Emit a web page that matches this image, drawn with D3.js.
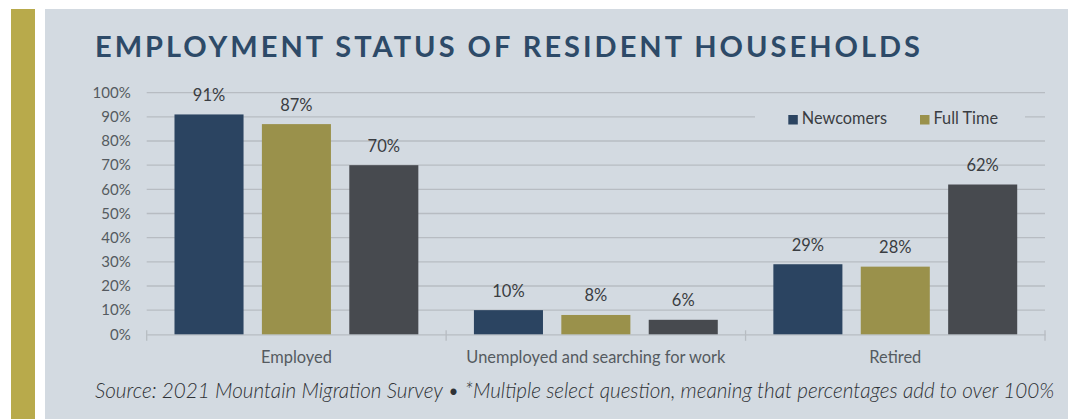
<!DOCTYPE html>
<html>
<head>
<meta charset="utf-8">
<script src="https://cdn.jsdelivr.net/npm/d3@7"></script>
<style>
  html, body { margin: 0; padding: 0; background: #fff; }
  #chart { width: 1068px; height: 419px; }
  text { font-family: Lato, "Open Sans", sans-serif; }
</style>
</head>
<body>
<div id="chart"></div>
<script>
var categories = ['Employed', 'Unemployed and searching for work', 'Retired'];
var seriesNames = ['Newcomers', 'Full Time', 'Other'];
var newcomers = [91, 10, 29];
var fullTime = [87, 8, 28];
var other = [70, 6, 62];
var yTicks = [0, 10, 20, 30, 40, 50, 60, 70, 80, 90, 100];
var legendNames = ['Newcomers', 'Full Time'];

(function () {
  var W = 1068, H = 419;
  var colors = { 'Newcomers': '#2b4461', 'Full Time': '#9a914b', 'Other': '#474a4f' };
  var margin = { top: 92.7, left: 146.7, right: 23, bottom: 84.7 };
  var width = W - margin.left - margin.right;
  var height = H - margin.top - margin.bottom;

  var root = d3.select('#chart').append('svg')
    .attr('width', W).attr('height', H);

  // background panel + gold side bar
  root.append('rect').attr('x', 11).attr('y', 9).attr('width', 24).attr('height', H - 9).attr('fill', '#b8aa4b');
  root.append('rect').attr('x', 45).attr('y', 9).attr('width', W - 45).attr('height', H - 9).attr('fill', '#d3dae1');

  root.append('text')
    .attr('x', 95).attr('y', 56.7)
    .attr('fill', '#2d4a68')
    .style('font-size', '29px').style('font-weight', 700)
    .style('letter-spacing', '3px')
    .text('EMPLOYMENT STATUS OF RESIDENT HOUSEHOLDS');

  var svg = root.append('g').attr('transform', 'translate(' + margin.left + ',' + margin.top + ')');

  var x0 = d3.scaleBand().domain(categories).range([0, width]).paddingInner(0).paddingOuter(0);
  var x1 = d3.scaleBand().domain(seriesNames).range([0, x0.bandwidth()]).paddingInner(0.21).paddingOuter(0.318);
  var y = d3.scaleLinear().domain([0, 100]).range([height, 0]);

  // gridlines
  svg.append('g').selectAll('line').data(yTicks.filter(function (d) { return d > 0; })).enter()
    .append('line')
    .attr('x1', 0).attr('x2', width)
    .attr('y1', function (d) { return y(d); }).attr('y2', function (d) { return y(d); })
    .attr('stroke', '#b7bcc2').attr('stroke-width', 1.3);

  // y labels
  svg.append('g').selectAll('text').data(yTicks).enter()
    .append('text')
    .attr('x', -16).attr('y', function (d) { return y(d); })
    .attr('dy', '0.35em').attr('text-anchor', 'end')
    .attr('fill', '#555a60').style('font-size', '15px')
    .text(function (d) { return d + '%'; });

  // x axis line + ticks at category boundaries
  var xAxis = d3.axisBottom(x0).tickSize(0).tickFormat('');
  var xg = svg.append('g').attr('transform', 'translate(0,' + height + ')').call(xAxis);
  xg.select('.domain').attr('stroke', '#b7bcc2').attr('stroke-width', 1.3);
  var bounds = [0].concat(categories.map(function (c) { return x0(c) + x0.bandwidth(); }));
  xg.selectAll('line.bound').data(bounds).enter().append('line').attr('class', 'bound')
    .attr('x1', function (d) { return d; }).attr('x2', function (d) { return d; })
    .attr('y1', -4).attr('y2', 6.5)
    .attr('stroke', '#b7bcc2').attr('stroke-width', 1.3);

  // category labels
  svg.append('g').selectAll('text').data(categories).enter()
    .append('text')
    .attr('x', function (d) { return x0(d) + x0.bandwidth() / 2; })
    .attr('y', height + 29)
    .attr('text-anchor', 'middle')
    .attr('fill', '#555a60').style('font-size', '16.4px')
    .text(function (d) { return d; });

  // bars
  var seriesVals = { 'Newcomers': newcomers, 'Full Time': fullTime, 'Other': other };
  var rows = [];
  categories.forEach(function (c, i) {
    seriesNames.forEach(function (s) { rows.push({ cat: c, key: s, value: seriesVals[s][i] }); });
  });

  svg.append('g').selectAll('rect').data(rows).enter()
    .append('rect')
    .attr('x', function (d) { return x0(d.cat) + x1(d.key); })
    .attr('y', function (d) { return y(d.value); })
    .attr('width', x1.bandwidth())
    .attr('height', function (d) { return height - y(d.value); })
    .attr('fill', function (d) { return colors[d.key]; });

  svg.append('g').selectAll('text').data(rows).enter()
    .append('text')
    .attr('x', function (d) { return x0(d.cat) + x1(d.key) + x1.bandwidth() / 2; })
    .attr('y', function (d) { return y(d.value) - 13.5; })
    .attr('text-anchor', 'middle')
    .attr('fill', '#3a3d42').style('font-size', '16.5px')
    .text(function (d) { return d.value + '%'; });

  // legend (box hides the gridline behind it)
  var lg = root.append('g');
  lg.append('rect').attr('x', 755).attr('y', 104).attr('width', 270).attr('height', 26).attr('fill', '#d3dae1');
  var lx = [788.3, 920];
  legendNames.forEach(function (n, i) {
    lg.append('rect').attr('x', lx[i]).attr('y', 115).attr('width', 9.5).attr('height', 9.5).attr('fill', colors[n]);
    lg.append('text').attr('x', lx[i] + 13.5).attr('y', 124.3)
      .attr('fill', '#3a3d42').style('font-size', '16.3px').text(n);
  });

  // footnote
  root.append('text')
    .attr('x', 95).attr('y', 398)
    .attr('fill', '#2f3236')
    .style('font-size', '20.7px').style('font-style', 'italic').style('font-weight', 300)
    .text('Source: 2021 Mountain Migration Survey \u2022 *Multiple select question, meaning that percentages add to over 100%');
})();
</script>
</body>
</html>
